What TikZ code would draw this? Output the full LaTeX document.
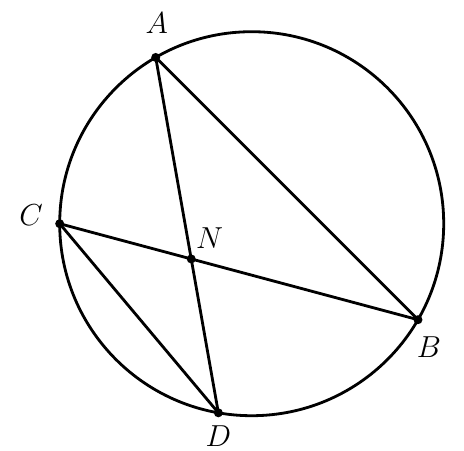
\documentclass[tikz,border=0pt]{standalone}
\usepackage{xcolor}

\begin{document}
\begin{tikzpicture}[line width=1.6pt, font=\fontsize{17}{20}\selectfont]

\useasboundingbox (-5.034,-4.526) rectangle (4.246,4.474);

% Circle
\coordinate (O) at (0,0);
\draw (O) circle (3.84cm);

% Points
\coordinate (A) at (120:3.84);
\coordinate (B) at (-30:3.84);
\coordinate (C) at (180:3.84);
\coordinate (D) at (-100:3.84);
\coordinate (N) at (intersection of A--D and C--B);

% Lines
\draw (A) -- (B);
\draw (A) -- (D);
\draw (C) -- (B);
\draw (C) -- (D);

% Dots
\foreach \p in {A,B,C,D,N}
  \fill (\p) circle (0.09cm);

% Labels
\node (labelA) at (A) [inner sep=1pt, xshift=0.02cm, yshift=0.69cm] {$A$};
\node (labelB) at (B) [inner sep=1pt, xshift=0.22cm, yshift=-0.55cm] {$B$};
\node (labelC) at (C) [inner sep=1pt, xshift=-0.57cm, yshift=0.18cm] {$C$};
\node (labelD) at (D) [inner sep=1pt, yshift=-0.46cm] {$D$};
\node (labelN) at (N) [inner sep=1pt, xshift=0.37cm, yshift=0.41cm] {$N$};

\end{tikzpicture}
\end{document}
